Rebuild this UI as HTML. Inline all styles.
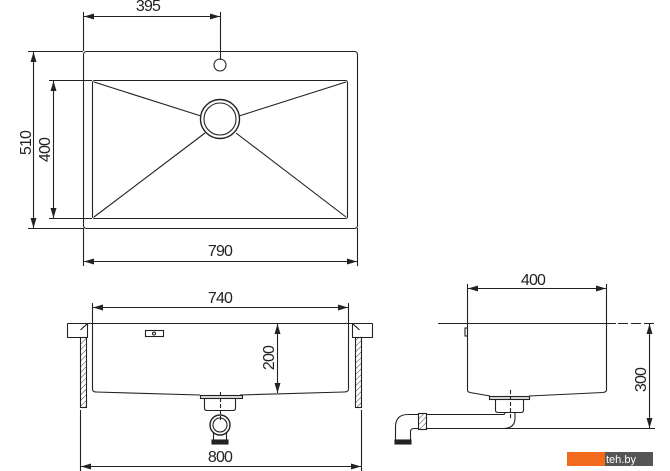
<!DOCTYPE html>
<html><head><meta charset="utf-8"><style>
html,body{margin:0;padding:0;background:#fff;}
svg{display:block;}
text{font-family:"Liberation Sans",sans-serif;font-size:16px;letter-spacing:-0.8px;fill:#222;}
</style></head><body>
<svg width="670" height="471" viewBox="0 0 670 471" xmlns="http://www.w3.org/2000/svg">
<defs>
<marker id="a" viewBox="0 0 10 6" refX="10" refY="3" markerWidth="10" markerHeight="6" orient="auto-start-reverse" markerUnits="userSpaceOnUse"><path d="M0,0 L10,3 L0,6 Z" fill="#222"/></marker>
<pattern id="h" width="4" height="4" patternUnits="userSpaceOnUse" patternTransform="rotate(45)"><line x1="0" y1="0" x2="0" y2="4" stroke="#444" stroke-width="1"/></pattern>
</defs>
<g fill="none" stroke="#222" stroke-width="1.1">
<rect x="83.5" y="51.5" width="274" height="177" rx="3"/>
<rect x="92.5" y="80.5" width="255" height="138" rx="2"/>
<circle cx="220" cy="119" r="19.5" stroke-width="1.4"/>
<circle cx="220" cy="119" r="16"/>
<circle cx="220" cy="65" r="6"/>
<line x1="94" y1="82" x2="201" y2="116"/>
<line x1="346" y1="82" x2="239" y2="116"/>
<line x1="94" y1="217" x2="205" y2="133"/>
<line x1="346" y1="217" x2="236" y2="133"/>
<line x1="83.5" y1="12" x2="83.5" y2="51"/>
<line x1="220.5" y1="12" x2="220.5" y2="60"/>
<line x1="84" y1="16.5" x2="220" y2="16.5" marker-start="url(#a)" marker-end="url(#a)"/>
<line x1="28" y1="51.5" x2="83" y2="51.5"/>
<line x1="28" y1="228.5" x2="83" y2="228.5"/>
<line x1="33.5" y1="52" x2="33.5" y2="228" marker-start="url(#a)" marker-end="url(#a)"/>
<line x1="49" y1="80.5" x2="92" y2="80.5"/>
<line x1="49" y1="218.5" x2="92" y2="218.5"/>
<line x1="53.5" y1="81" x2="53.5" y2="218" marker-start="url(#a)" marker-end="url(#a)"/>
<line x1="83.5" y1="228" x2="83.5" y2="266"/>
<line x1="357.5" y1="228" x2="357.5" y2="266"/>
<line x1="84" y1="261.5" x2="357" y2="261.5" marker-start="url(#a)" marker-end="url(#a)"/>

<line x1="92.5" y1="303" x2="92.5" y2="323"/>
<line x1="348.5" y1="303" x2="348.5" y2="323"/>
<line x1="93" y1="307.5" x2="348" y2="307.5" marker-start="url(#a)" marker-end="url(#a)"/>
<path d="M67.5,323.5 H87.5 L80.5,330 M67.5,323.5 V337.5 H87.5 V323.5"/>
<path d="M372.5,323.5 H352.5 L359.5,330 M372.5,323.5 V337.5 H352.5 V323.5"/>
<rect x="80.5" y="337.5" width="6" height="70" fill="url(#h)"/>
<rect x="355.5" y="337.5" width="6" height="70" fill="url(#h)"/>
<line x1="87" y1="323.5" x2="353" y2="323.5"/>
<path d="M92.5,323.5 V389 Q92.5,392 96,392 L200,395 M240,395 L344,392 Q348.5,392 348.5,389 V323.5"/>
<rect x="145.5" y="330.5" width="18" height="6"/>
<circle cx="154" cy="333.5" r="1.5"/>
<rect x="200.5" y="395.5" width="42" height="3" fill="#ddd"/>
<path d="M204.5,398.5 V408 Q204.5,410.5 207,410.5 H233 Q235.5,410.5 235.5,408 V398.5"/>
<circle cx="220" cy="425" r="10" stroke-width="1.4"/>
<circle cx="220" cy="425" r="7"/>
<path d="M213.5,432 V441 M226.5,432 V441"/>
<rect x="212" y="440" width="16" height="4" fill="#222"/>
<line x1="220.5" y1="392" x2="220.5" y2="420" stroke-dasharray="4,2"/>
<line x1="277.5" y1="324" x2="277.5" y2="393" marker-start="url(#a)" marker-end="url(#a)"/>
<line x1="80.5" y1="410" x2="80.5" y2="471"/>
<line x1="361.5" y1="410" x2="361.5" y2="471"/>
<line x1="81" y1="466.5" x2="361" y2="466.5" marker-start="url(#a)" marker-end="url(#a)"/>

<line x1="467.5" y1="284" x2="467.5" y2="323"/>
<line x1="606.5" y1="284" x2="606.5" y2="323"/>
<line x1="468" y1="288.5" x2="606" y2="288.5" marker-start="url(#a)" marker-end="url(#a)"/>
<line x1="438" y1="323.5" x2="616" y2="323.5"/>
<line x1="618" y1="323.5" x2="655" y2="323.5" stroke-dasharray="10,3"/>
<path d="M467.5,323.5 V390 Q467.5,392 470,392.5 L490,396 M529,396 L603,392.5 Q606.5,392 606.5,390 V323.5"/>
<rect x="465" y="328" width="2.5" height="8"/>
<rect x="489.5" y="396.5" width="40" height="3" fill="#ddd"/>
<path d="M495.5,399.5 V410 Q495.5,412.5 498,412.5 H521 Q523.5,412.5 523.5,410 V399.5"/>
<line x1="510.5" y1="390" x2="510.5" y2="418" stroke-dasharray="4,2"/>
<path d="M426,414.5 H503 Q505,414.5 505,412.5 M515,412.5 V418 Q515,428.5 503,428.5 H426"/>
<line x1="426" y1="428.5" x2="655" y2="428.5"/>
<rect x="418.5" y="413.5" width="8" height="16" fill="url(#h)"/>
<path d="M418.5,414.5 H408 Q395.5,414.5 395.5,427 V441 M418.5,428.5 H414 Q410.5,428.5 410.5,432 V441"/>
<rect x="395" y="440" width="16" height="4" fill="#222"/>
<line x1="649.5" y1="324" x2="649.5" y2="428" marker-start="url(#a)" marker-end="url(#a)"/>
</g>
<text x="148" y="11" text-anchor="middle">395</text>
<text x="220" y="256" text-anchor="middle">790</text>
<text transform="translate(31,143) rotate(-90)" text-anchor="middle">510</text>
<text transform="translate(50,150) rotate(-90)" text-anchor="middle">400</text>
<text x="220" y="303" text-anchor="middle">740</text>
<text transform="translate(274,358) rotate(-90)" text-anchor="middle">200</text>
<text x="220" y="462" text-anchor="middle">800</text>
<text x="533" y="285" text-anchor="middle">400</text>
<text transform="translate(646,380) rotate(-90)" text-anchor="middle">300</text>
<rect x="567" y="452" width="38" height="14" fill="#f26a1b"/>
<rect x="605" y="452" width="48" height="14" fill="#555"/>
<text x="606" y="463" style="font-size:11px;letter-spacing:0;fill:#fff">teh.by</text>
</svg>
</body></html>
